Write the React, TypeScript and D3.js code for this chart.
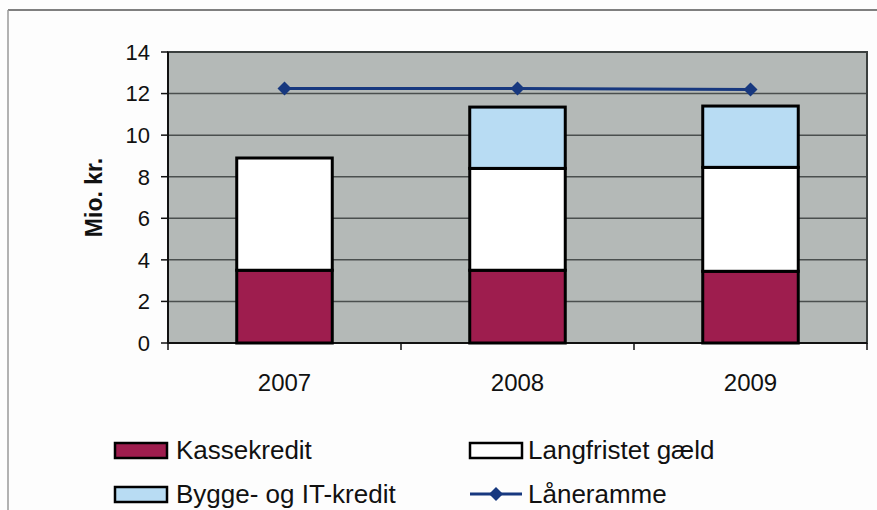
import React from "react";
import * as d3 from "d3";

const years = ["2007", "2008", "2009"];
const kassekredit = [3.5, 3.5, 3.45];
const langfristet = [5.4, 4.9, 5.0];
const bygge = [0, 2.95, 2.95];
const laaneramme = [12.25, 12.25, 12.2];
const yTicks = [0, 2, 4, 6, 8, 10, 12, 14];
const seriesNames = ["Kassekredit", "Langfristet gæld", "Bygge- og IT-kredit", "Låneramme"];

const W = 877;
const H = 510;
const plot = { left: 168, right: 867, top: 52, bottom: 343 };
const colors = { kasse: "#9e1d4e", lang: "#ffffff", bygge: "#b8dcf3", line: "#17387f", bg: "#b4b9b7", grid: "#4a4f4e" };
const font = "Arial, 'Liberation Sans', sans-serif";

export default function App() {
  const x = d3.scaleBand().domain(years).range([plot.left, plot.right]).paddingInner(0.59).paddingOuter(0.295);
  const y = d3.scaleLinear().domain([0, 14]).range([plot.bottom, plot.top]);
  const stackData = years.map((yr, i) => ({ year: yr, kasse: kassekredit[i], lang: langfristet[i], bygge: bygge[i] }));
  const stack = d3.stack<any>().keys(["kasse", "lang", "bygge"])(stackData);
  const fills: Record<string, string> = { kasse: colors.kasse, lang: colors.lang, bygge: colors.bygge };
  const step = (plot.right - plot.left) / years.length;
  const cx = (yr: string) => (x(yr) as number) + x.bandwidth() / 2;
  const line = d3.line<number>().x((_, i) => cx(years[i])).y((v) => y(v));
  const diamond = (px: number, py: number, r: number) => `M${px},${py - r}L${px + r},${py}L${px},${py + r}L${px - r},${py}Z`;

  return (
    <svg width={W} height={H} style={{ position: "absolute", left: 0, top: 0, background: "#fdfdfd" }} fontFamily={font}>
      {/* frame */}
      <line x1={8} x2={W} y1={10} y2={10} stroke="#555" strokeWidth={1.5} />
      <line x1={8} x2={8} y1={10} y2={H} stroke="#999" strokeWidth={1.5} />
      {/* plot background */}
      <rect x={plot.left} y={plot.top} width={plot.right - plot.left} height={plot.bottom - plot.top} fill={colors.bg} />
      {yTicks.filter((t) => t > 0 && t < 14).map((t) => (
        <line key={t} x1={plot.left} x2={plot.right} y1={y(t)} y2={y(t)} stroke={colors.grid} strokeWidth={1.5} />
      ))}
      <rect x={plot.left} y={plot.top} width={plot.right - plot.left} height={plot.bottom - plot.top} fill="none" stroke="#3a3f3e" strokeWidth={2} />
      {/* y axis */}
      <line x1={plot.left} x2={plot.left} y1={plot.top} y2={plot.bottom} stroke="#111" strokeWidth={2} />
      {yTicks.map((t) => (
        <g key={t}>
          <line x1={plot.left - 7} x2={plot.left} y1={y(t)} y2={y(t)} stroke="#111" strokeWidth={1.5} />
          <text x={plot.left - 18} y={y(t)} dy="0.36em" textAnchor="end" fontSize={22} fill="#111">{t}</text>
        </g>
      ))}
      <text transform={`translate(94,${(plot.top + plot.bottom) / 2}) rotate(-90)`} textAnchor="middle" dy="0.36em" fontSize={23} fontWeight="bold" fill="#111">Mio. kr.</text>
      {/* x axis */}
      <line x1={plot.left} x2={plot.right} y1={plot.bottom} y2={plot.bottom} stroke="#111" strokeWidth={2} />
      {d3.range(years.length + 1).map((i) => (
        <line key={i} x1={plot.left + i * step} x2={plot.left + i * step} y1={plot.bottom} y2={plot.bottom + 7} stroke="#111" strokeWidth={1.5} />
      ))}
      {years.map((yr) => (
        <text key={yr} x={cx(yr)} y={382} dy="0.36em" textAnchor="middle" fontSize={24} fill="#111">{yr}</text>
      ))}
      {/* bars */}
      {stack.map((s) => (
        <g key={s.key}>
          {s.map((d, i) => (d[1] - d[0] > 0 ? (
            <rect key={i} x={x(years[i])} y={y(d[1])} width={x.bandwidth()} height={y(d[0]) - y(d[1])} fill={fills[s.key]} stroke="#000" strokeWidth={3} />
          ) : null))}
        </g>
      ))}
      {/* line */}
      <path d={line(laaneramme) || ""} fill="none" stroke={colors.line} strokeWidth={3} />
      {laaneramme.map((v, i) => (
        <path key={i} d={diamond(cx(years[i]), y(v), 7)} fill={colors.line} />
      ))}
      {/* legend */}
      <g fontSize={26} fill="#111">
        <rect x={115} y={443} width={52} height={15} fill={colors.kasse} stroke="#000" strokeWidth={2.5} />
        <text x={176} y={450} dy="0.36em">{seriesNames[0]}</text>
        <rect x={470} y={443} width={52} height={15} fill={colors.lang} stroke="#000" strokeWidth={2.5} />
        <text x={528} y={450} dy="0.36em">{seriesNames[1]}</text>
        <rect x={115} y={487} width={52} height={15} fill={colors.bygge} stroke="#000" strokeWidth={2.5} />
        <text x={176} y={494} dy="0.36em">{seriesNames[2]}</text>
        <line x1={470} x2={522} y1={494} y2={494} stroke={colors.line} strokeWidth={3} />
        <path d={diamond(496, 494, 7)} fill={colors.line} />
        <text x={528} y={494} dy="0.36em">{seriesNames[3]}</text>
      </g>
    </svg>
  );
}
